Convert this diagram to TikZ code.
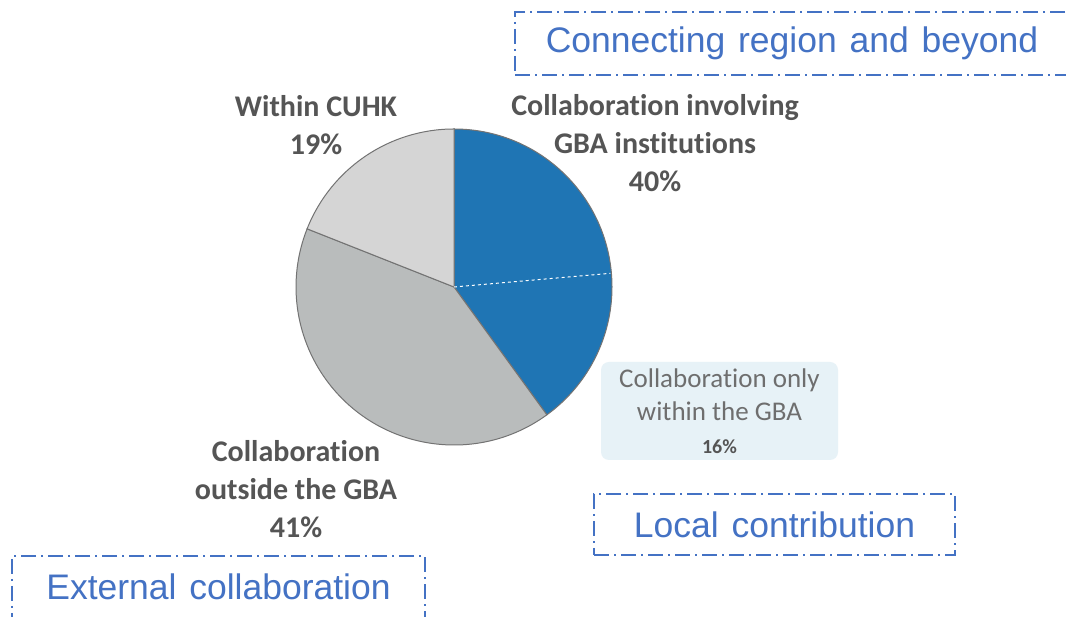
\documentclass[tikz,border=0pt]{standalone}
\usepackage{fontspec}
\setmainfont[Ligatures=NoCommon]{Carlito}
\newfontfamily\boxfont[WordSpace=1.3]{Liberation Sans}
\definecolor{gbablue}{RGB}{31,117,180}
\definecolor{outgrey}{RGB}{185,188,188}
\definecolor{cuhkgrey}{RGB}{213,213,213}
\definecolor{edgegrey}{RGB}{115,115,115}
\definecolor{labelgrey}{RGB}{85,85,85}
\definecolor{boxblue}{RGB}{68,114,196}
\definecolor{paleblue}{RGB}{231,242,247}
\tikzset{
  slice/.style={draw=edgegrey,line width=1pt},
  pielabel/.style={align=center,text=labelgrey,font=\fontsize{30}{38}\selectfont\bfseries},
  regionbox/.style={draw=boxblue,line width=1.6pt,dash pattern=on 15pt off 5pt on 2pt off 5pt,text=boxblue,font=\boxfont\fontsize{35.5}{42}\selectfont,inner sep=0pt},
  notebox/.style={fill=paleblue,rounded corners=8pt,align=center,text=labelgrey!85!white,font=\fontsize{27}{33}\selectfont,minimum width=237pt,minimum height=98pt}
}
\begin{document}
\begin{tikzpicture}[x=1pt,y=1pt]
\def\r{158pt}
\fill[white](0,0)rectangle(1066,617);
\useasboundingbox(0,0)rectangle(1066,617);
\coordinate(o)at(454,330);
\draw[slice,fill=gbablue](o)--++(90:\r)arc[start angle=90,end angle=-54,radius=\r]--cycle;
\draw[slice,fill=outgrey](o)--++(-54:\r)arc[start angle=-54,end angle=-201.6,radius=\r]--cycle;
\draw[slice,fill=cuhkgrey](o)--++(158.4:\r)arc[start angle=158.4,end angle=90,radius=\r]--cycle;
\draw[white,dashed,line width=1pt](o)--++(5:157pt);
\node[pielabel](cuhk)at(316,492){Within CUHK\\19\%};
\node[pielabel](gba)at(655,474){Collaboration involving\\GBA institutions\\40\%};
\node[pielabel](outside)at(296,128){Collaboration\\outside the GBA\\41\%};
\node[notebox](only)at(719.5,206){Collaboration only\\within the GBA\\{\color{labelgrey}\bfseries\fontsize{20}{26}\selectfont 16\%}};
\node[regionbox,minimum width=554pt,minimum height=63pt](beyond)at(792,573.5){Connecting region and beyond};
\node[regionbox,minimum width=361pt,minimum height=61pt](local)at(774.5,92.5){Local contribution};
\node[regionbox,minimum width=413pt,minimum height=62pt](external)at(218.5,30){External collaboration};
\end{tikzpicture}
\end{document}
